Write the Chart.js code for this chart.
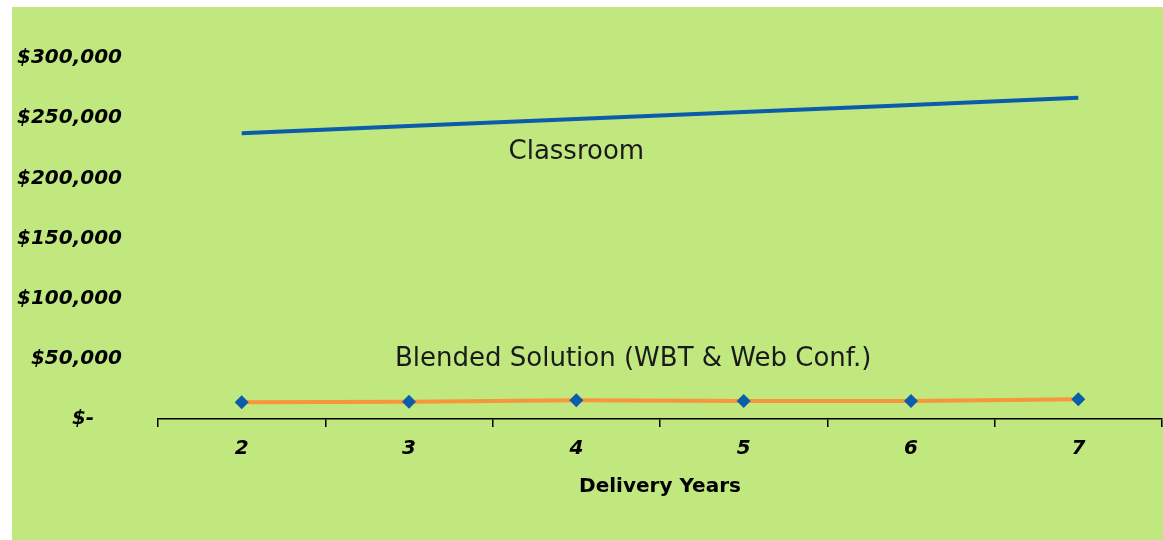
<!DOCTYPE html>
<html>
<head>
<meta charset="utf-8">
<script src="https://cdn.jsdelivr.net/npm/chart.js@4.4.1/dist/chart.umd.min.js"></script>
<style>
    html, body { margin: 0; padding: 0; background: #ffffff; overflow: hidden; }
    #wrap {
        position: absolute;
        left: 12px;
        top: 7px;
        width: 1157px;
        height: 533px;
        background: #c1e77f;
    }
</style>
</head>
<body>
<div id="wrap"><canvas id="costChart"></canvas></div>
<script>
// chart data
var years = ['2', '3', '4', '5', '6', '7'];
var classroomCost = [237500, 243400, 249300, 255200, 261000, 266900];
var blendedCost = [14000, 14300, 15600, 15000, 15000, 16500];
var yTicks = [0, 50000, 100000, 150000, 200000, 250000, 300000];

// text labels written on the plot (series name, category index, value)
var seriesNotes = [
    { text: 'Classroom', at: 2, value: 222000 },
    { text: 'Blended Solution (WBT & Web Conf.)', at: 2.34, value: 50000 }
];

function money(v) {
    if (v === 0) {
        return '$-    ';
    }
    return '$' + v.toLocaleString('en-US');
}

var notesPlugin = {
    id: 'seriesNotes',
    afterDatasetsDraw: function (chart) {
        var ctx = chart.ctx;
        var xs = chart.scales.x;
        var ys = chart.scales.y;
        ctx.save();
        ctx.font = '26px "DejaVu Sans"';
        ctx.fillStyle = '#1a1a1a';
        ctx.textAlign = 'center';
        ctx.textBaseline = 'middle';
        for (var i = 0; i < seriesNotes.length; i++) {
            var n = seriesNotes[i];
            ctx.fillText(n.text, xs.getPixelForValue(n.at), ys.getPixelForValue(n.value));
        }
        ctx.restore();
    }
};

var ctx = document.getElementById('costChart').getContext('2d');

var costChart = new Chart(ctx, {
    type: 'line',
    data: {
        labels: years,
        datasets: [
            {
                label: 'Classroom',
                data: classroomCost,
                borderColor: '#0b5cab',
                borderWidth: 4,
                pointRadius: 0,
                tension: 0
            },
            {
                label: 'Blended Solution (WBT & Web Conf.)',
                data: blendedCost,
                borderColor: '#f7963b',
                borderWidth: 4,
                pointStyle: 'rectRot',
                pointRadius: 7,
                pointHoverRadius: 7,
                pointBackgroundColor: '#0b5cab',
                pointBorderWidth: 0,
                tension: 0
            }
        ]
    },
    options: {
        responsive: true,
        maintainAspectRatio: false,
        animation: false,
        layout: {
            padding: { top: 51, right: 0, bottom: 41, left: 0 }
        },
        plugins: {
            legend: { display: false },
            tooltip: { enabled: false }
        },
        scales: {
            x: {
                offset: true,
                grid: {
                    offset: true,
                    drawOnChartArea: false,
                    drawTicks: true,
                    tickLength: 8,
                    color: '#000000',
                    lineWidth: 1.5
                },
                border: { display: true, color: '#000000', width: 1.5 },
                ticks: {
                    color: '#000000',
                    padding: 10,
                    font: { family: '"DejaVu Sans"', size: 20, weight: 'bold', style: 'italic' }
                },
                title: {
                    display: true,
                    text: 'Delivery Years',
                    color: '#000000',
                    padding: { top: 4, bottom: 0 },
                    font: { family: '"DejaVu Sans"', size: 20, weight: 'bold' }
                }
            },
            y: {
                min: 0,
                max: 300000,
                afterFit: function (scale) {
                    scale.width = 146;
                },
                afterBuildTicks: function (scale) {
                    scale.ticks = yTicks.map(function (v) { return { value: v }; });
                },
                grid: { display: false, drawTicks: false },
                border: { display: false },
                ticks: {
                    color: '#000000',
                    padding: 36,
                    callback: function (v) { return money(v); },
                    font: { family: '"DejaVu Sans"', size: 20, weight: 'bold', style: 'italic' }
                }
            }
        }
    },
    plugins: [notesPlugin]
});
</script>
</body>
</html>
